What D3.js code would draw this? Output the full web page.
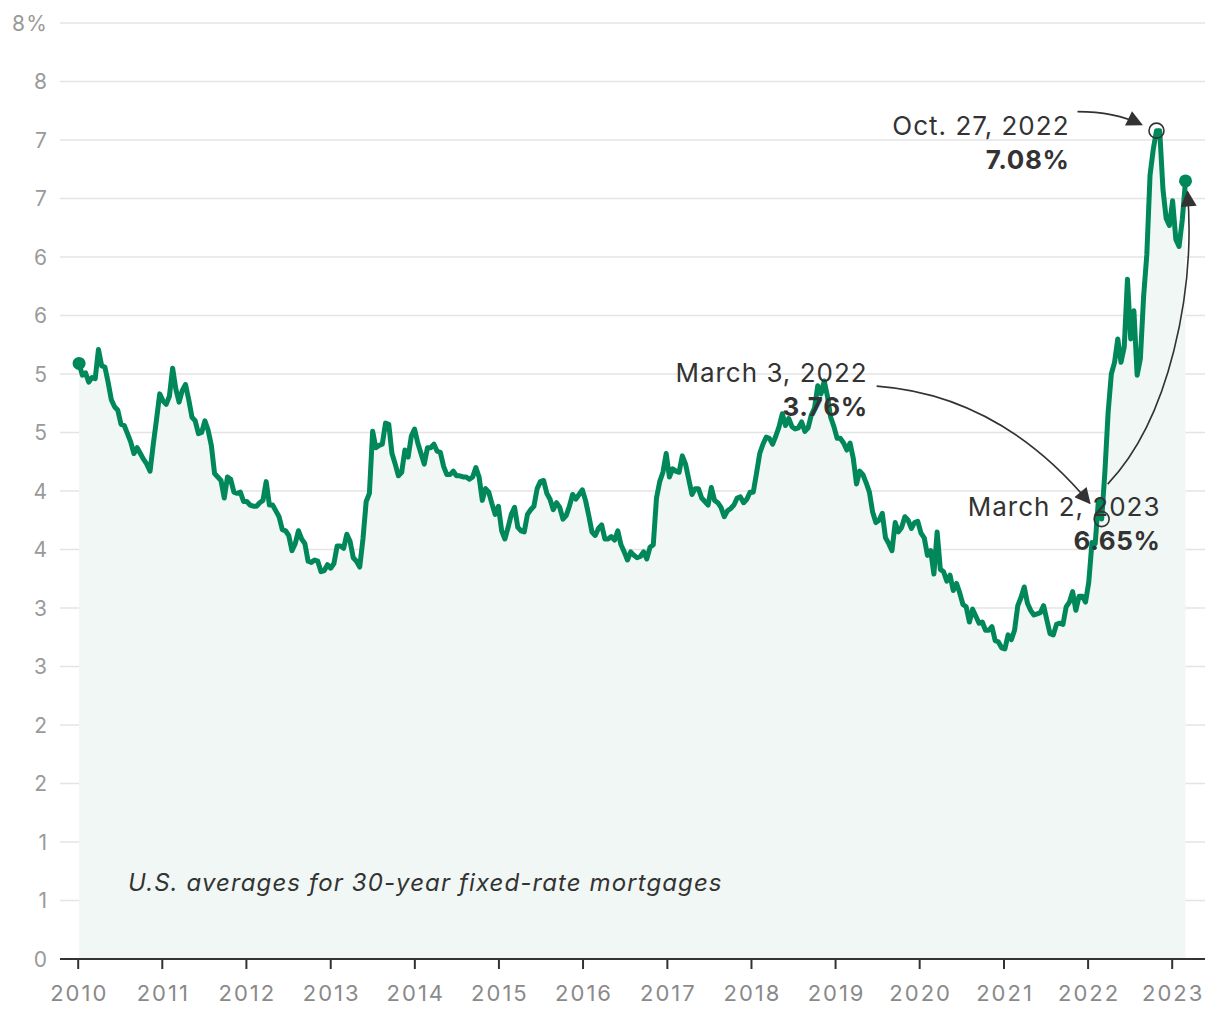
<!DOCTYPE html>
<html><head><meta charset="utf-8">
<script src="https://cdn.jsdelivr.net/npm/d3@7"></script>
<style>
body{margin:0;background:#fff}
text{font-family:Inter,"Liberation Sans",sans-serif}
</style>
</head><body>
<svg id="chart" width="1220" height="1020"></svg>
<script>
// Weekly series sampled every 14 days, starting Thursday 2010-01-07 and ending 2023-03-02
const seriesStart = "2010-01-07";
const seriesStepDays = 14;
const rates2010 = [5.09,4.99,5.01,4.93,4.97,4.96,5.21,5.07,5.06,4.93,4.78,4.72,4.69,4.57,4.56,4.49,4.42,4.32,4.37,4.32,4.27,4.23,4.17,4.40,4.61,4.83];
const rates2011 = [4.77,4.74,4.81,5.05,4.87,4.76,4.86,4.91,4.78,4.63,4.60,4.49,4.50,4.60,4.52,4.39,4.15,4.12,4.09,3.94,4.12,4.10,3.99,3.98,3.99,3.91];
const rates2012 = [3.91,3.88,3.87,3.87,3.90,3.92,4.08,3.88,3.88,3.83,3.78,3.67,3.66,3.62,3.49,3.55,3.66,3.59,3.55,3.40,3.39,3.41,3.40,3.31,3.32,3.37];
const rates2013 = [3.34,3.38,3.53,3.53,3.51,3.63,3.57,3.43,3.40,3.35,3.59,3.91,3.98,4.51,4.37,4.39,4.40,4.58,4.57,4.32,4.23,4.13,4.16,4.35,4.29,4.47];
const rates2014 = [4.53,4.41,4.32,4.23,4.37,4.37,4.40,4.34,4.33,4.21,4.14,4.14,4.17,4.13,4.13,4.12,4.12,4.10,4.12,4.20,4.12,3.92,4.02,3.99,3.89,3.80];
const rates2015 = [3.87,3.66,3.59,3.69,3.80,3.86,3.69,3.66,3.65,3.80,3.84,3.87,4.02,4.08,4.09,3.98,3.93,3.84,3.90,3.86,3.76,3.79,3.87,3.97,3.93,3.97,4.01];
const rates2016 = [3.92,3.79,3.65,3.62,3.68,3.71,3.59,3.59,3.61,3.58,3.66,3.54,3.48,3.41,3.48,3.45,3.43,3.44,3.48,3.42,3.52,3.54,3.94,4.08,4.16,4.32];
const rates2017 = [4.12,4.19,4.17,4.16,4.30,4.23,4.10,3.97,4.02,4.02,3.94,3.91,3.88,4.03,3.92,3.90,3.86,3.78,3.83,3.85,3.88,3.94,3.95,3.90,3.93,3.99];
const rates2018 = [3.99,4.15,4.32,4.40,4.46,4.45,4.40,4.47,4.55,4.66,4.56,4.62,4.55,4.53,4.54,4.59,4.51,4.54,4.65,4.71,4.90,4.83,4.94,4.81,4.63,4.55];
const rates2019 = [4.45,4.45,4.41,4.35,4.41,4.28,4.06,4.17,4.14,4.07,3.99,3.82,3.73,3.75,3.81,3.60,3.55,3.49,3.73,3.65,3.69,3.78,3.75,3.68,3.73,3.74];
const rates2020 = [3.64,3.60,3.45,3.49,3.29,3.65,3.33,3.31,3.23,3.28,3.15,3.21,3.13,3.03,3.01,2.88,2.99,2.93,2.87,2.88,2.81,2.81,2.84,2.72,2.71,2.66];
const rates2021 = [2.65,2.77,2.73,2.81,3.02,3.09,3.18,3.04,2.98,2.94,2.95,2.96,3.02,2.90,2.78,2.77,2.86,2.87,2.86,3.01,3.05,3.14,2.98,3.10,3.10,3.05];
const rates2022 = [3.22,3.56,3.55,3.92,3.76,4.16,4.67,5.00,5.10,5.30,5.10,5.23,5.81,5.30,5.54,4.99,5.13,5.66,6.02,6.70,6.92,7.08,7.08,6.58,6.33,6.27];
const rates2023 = [6.48,6.15,6.09,6.32,6.65];

const xTickYears = [2010,2011,2012,2013,2014,2015,2016,2017,2018,2019,2020,2021,2022,2023];
const yTickValues = [0,0.5,1,1.5,2,2.5,3,3.5,4,4.5,5,5.5,6,6.5,7,7.5,8];
const yTickLabels = ["0","1","1","2","2","3","3","4","4","5","5","6","6","7","7","8","8%"];

const annDates = ["2022-10-27","2022-03-03","2023-03-02"];
const annTitles = ["Oct. 27, 2022","March 3, 2022","March 2, 2023"];
const annValues = ["7.08%","3.76%","6.65%"];
const noteText = "U.S. averages for 30-year fixed-rate mortgages";

const parse = d3.utcParse("%Y-%m-%d");
const allRates = [].concat(rates2010,rates2011,rates2012,rates2013,rates2014,rates2015,rates2016,rates2017,rates2018,rates2019,rates2020,rates2021,rates2022,rates2023);
const t0 = parse(seriesStart);
const data = allRates.map((v,i)=>({date:d3.utcDay.offset(t0,i*seriesStepDays), value:v}));

const svg = d3.select("#chart");
const x = d3.scaleUtc().domain([new Date(Date.UTC(2010,0,1)), new Date(Date.UTC(2023,0,1))]).range([77.7,1171.7]);
const y = d3.scaleLinear().domain([0,8]).range([959,23]);
const gridLeft = 60, gridRight = 1205;
const green = "#00875a", ink = "#333333";

// grid
svg.append("g").selectAll("line").data(yTickValues.slice(1)).join("line")
  .attr("x1",gridLeft).attr("x2",gridRight)
  .attr("y1",d=>y(d)).attr("y2",d=>y(d))
  .attr("stroke","#e4e4e4").attr("stroke-width",1.6);

// y labels
svg.append("g").selectAll("text").data(yTickValues).join("text")
  .attr("x",48.5).attr("y",d=>y(d)).attr("dy","0.36em")
  .attr("text-anchor","end").attr("fill","#9a9a9a").attr("font-size",21)
  .attr("letter-spacing",1.5)
  .text((d,i)=>yTickLabels[i]);

// area
const area = d3.area().x(d=>x(d.date)).y0(y(0)).y1(d=>y(d.value));
svg.append("path").datum(data).attr("d",area).attr("fill","#f1f7f4");

// note
svg.append("text").attr("x",128).attr("y",891).attr("font-size",24)
  .attr("letter-spacing",1.1)
  .attr("font-style","italic").attr("fill",ink).text(noteText);

// x axis
const xAxis = d3.axisBottom(x)
  .tickValues(xTickYears.map(yy=>new Date(Date.UTC(yy,0,1))))
  .tickFormat(d3.utcFormat("%Y")).tickSize(10).tickPadding(16);
const gx = svg.append("g").attr("transform",`translate(0,${y(0)})`).call(xAxis);
gx.select(".domain").remove();
gx.selectAll(".tick line").attr("stroke",ink).attr("stroke-width",2);
gx.selectAll(".tick text").attr("fill","#8a8a8a").attr("font-size",22)
  .attr("letter-spacing",2).attr("dx",1)
  .attr("font-family","Inter,'Liberation Sans',sans-serif");
svg.append("line").attr("x1",gridLeft).attr("x2",gridRight)
  .attr("y1",y(0)).attr("y2",y(0)).attr("stroke",ink).attr("stroke-width",2.2);

// line
const line = d3.line().x(d=>x(d.date)).y(d=>y(d.value));
svg.append("path").datum(data).attr("d",line).attr("fill","none")
  .attr("stroke",green).attr("stroke-width",5).attr("stroke-linejoin","round").attr("stroke-linecap","round");
const first = data[0], last = data[data.length-1];
[first,last].forEach(d=>svg.append("circle").attr("cx",x(d.date)).attr("cy",y(d.value)).attr("r",6.5).attr("fill",green));

// annotations
const defs = svg.append("defs");
defs.append("marker").attr("id","ah").attr("viewBox","0 0 10 10").attr("refX",9).attr("refY",5)
  .attr("markerWidth",20).attr("markerHeight",16).attr("markerUnits","userSpaceOnUse").attr("orient","auto")
  .append("path").attr("d","M0,0 L10,5 L0,10 Z").attr("fill",ink);

const pts = annDates.map((ds,i)=>{
  const d = data.find(p=>+p.date===+parse(ds));
  return {px:x(d.date), py:y(d.value)};
});
[pts[0],pts[1]].forEach(p=>svg.append("circle").attr("cx",p.px).attr("cy",p.py).attr("r",7.5)
  .attr("fill","none").attr("stroke",ink).attr("stroke-width",1.6));

const labelOffsets = [[-88,4],[-235,-137],[-26,335]];
annTitles.forEach((t,i)=>{
  const lx = pts[i].px + labelOffsets[i][0], ly = pts[i].py + labelOffsets[i][1];
  svg.append("text").attr("x",lx+1).attr("y",ly).attr("text-anchor","end")
    .attr("font-size",26).attr("letter-spacing",1).attr("fill",ink).text(t);
  svg.append("text").attr("x",lx+1).attr("y",ly+34).attr("text-anchor","end")
    .attr("font-size",26).attr("letter-spacing",0.6).attr("font-weight",700).attr("fill",ink).text(annValues[i]);
});

// arrows
const p0=pts[0], p1=pts[1], p2=pts[2];
const arrows = [
  `M${p0.px-79},${p0.py-19} Q${p0.px-42},${p0.py-19} ${p0.px-15},${p0.py-6}`,
  `M${p1.px-225},${p1.py-133} Q${p1.px-102},${p1.py-124} ${p1.px-12},${p1.py-16}`,
  `M${p1.px+6},${p1.py-35} C${p1.px+68},${p1.py-100} ${p2.px+10},${p2.py+110} ${p2.px+2},${p2.py+11}`
];
svg.append("g").selectAll("path").data(arrows).join("path")
  .attr("d",d=>d).attr("fill","none").attr("stroke",ink).attr("stroke-width",1.6)
  .attr("marker-end","url(#ah)");
</script>
</body></html>
